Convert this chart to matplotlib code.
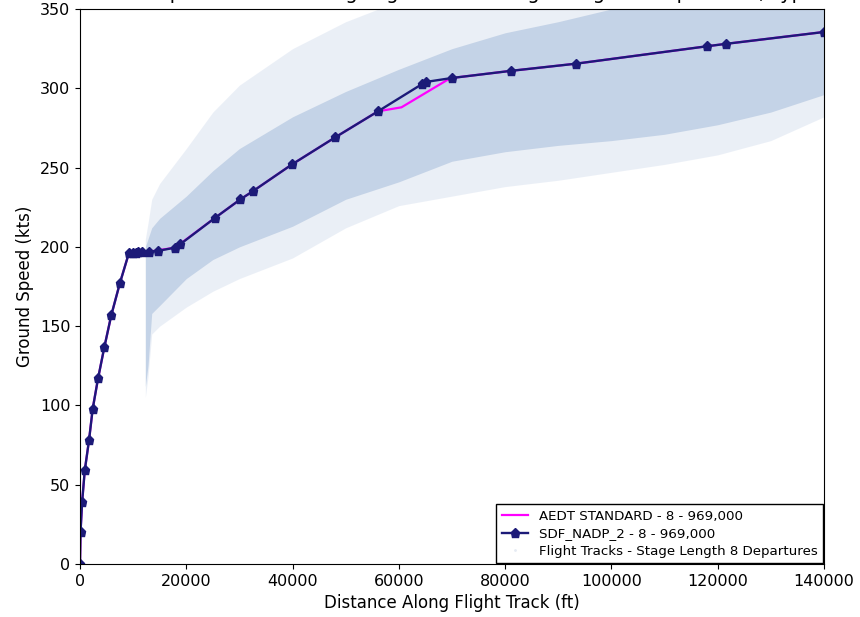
import numpy as np
import matplotlib
matplotlib.use('Agg')
import matplotlib.pyplot as plt
from matplotlib.lines import Line2D

# SDF_NADP_2 procedure profile (distance ft, ground speed kts)
nadp_dist = [0, 100, 400, 900, 1700, 2400, 3400, 4600, 5900, 7500, 9200,
             10000, 10500, 11000, 11600, 13000, 14700, 17900, 18800, 25500,
             30200, 32500, 39900, 48000, 56100, 64300, 65100, 70000, 81100,
             93300, 118000, 121500, 140000]
nadp_speed = [0, 20, 39, 59, 78, 98, 117, 137, 157, 177, 196,
              196, 196, 196.5, 196.5, 197, 197.5, 199.5, 201.5, 218.5,
              230, 235, 252, 269, 285.5, 302.5, 304, 306.5, 311,
              315.5, 326.5, 328, 335.5]

# AEDT standard profile (only differs from NADP between 56k and 70k ft)
aedt_dist = [0, 100, 400, 900, 1700, 2400, 3400, 4600, 5900, 7500, 9200,
             13000, 17900, 25500, 30200, 32500, 39900, 48000, 56100, 60500,
             69000, 70000, 81100, 93300, 118000, 121500, 140000]
aedt_speed = [0, 20, 39, 59, 78, 98, 117, 137, 157, 177, 196,
              197, 199.5, 218.5, 230, 235, 252, 269, 285.5, 288,
              305, 306.5, 311, 315.5, 326.5, 328, 335.5]

# flight track cloud envelopes
track_x = [12300, 12800, 13500, 15000, 20000, 25000, 30000, 40000, 50000,
           60000, 70000, 80000, 90000, 100000, 110000, 120000, 130000, 140000]
core_lo = [112, 125, 158, 163, 180, 192, 200, 213, 230,
           241, 254, 260, 264, 267, 271, 277, 285, 296]
core_hi = [200, 205, 212, 218, 232, 248, 262, 282, 298,
           312, 325, 335, 342, 350, 352, 355, 358, 360]
outer_lo = [105, 118, 145, 150, 162, 172, 180, 193, 212,
            226, 232, 238, 242, 247, 252, 258, 267, 282]
outer_hi = [205, 215, 230, 240, 262, 285, 302, 325, 342,
            355, 360, 360, 360, 360, 360, 360, 360, 360]

fig = plt.figure(figsize=(8.6, 6.17), dpi=100)
ax = fig.add_axes([0.093, 0.0859, 0.865, 0.8995])

ax.fill_between(track_x, outer_lo, outer_hi, color='#b7c8e2', alpha=0.28, lw=0)
ax.fill_between(track_x, core_lo, core_hi, color='#b3c6e0', alpha=0.68, lw=0)

ax.plot(aedt_dist, aedt_speed, color='magenta', lw=1.6, label='AEDT STANDARD - 8 - 969,000')
ax.plot(nadp_dist, nadp_speed, color='#1c1a78', lw=1.7, marker='p', ms=6.5,
        label='SDF_NADP_2 - 8 - 969,000')

handles, labels = ax.get_legend_handles_labels()
handles.append(Line2D([], [], ls='', marker='.', ms=2, color='#e6ebf3'))
labels.append('Flight Tracks - Stage Length 8 Departures')
ax.legend(handles, labels, loc='lower right', fontsize=9.6, framealpha=1,
          fancybox=False, edgecolor='black', borderaxespad=0.05,
          handletextpad=0.8, labelspacing=0.35)

ax.set_xlim(0, 140000)
ax.set_ylim(0, 350)
ax.tick_params(labelsize=11.5)
ax.set_xlabel('Distance Along Flight Track (ft)', fontsize=12)
ax.set_ylabel('Ground Speed (kts)', fontsize=12)
ax.set_title('767-300 Ground Speed Profiles Along Flight Track - Stage Length 8 Departures, Typical Weight',
             fontsize=14, pad=7)

fig.savefig('out.png', dpi=100)
